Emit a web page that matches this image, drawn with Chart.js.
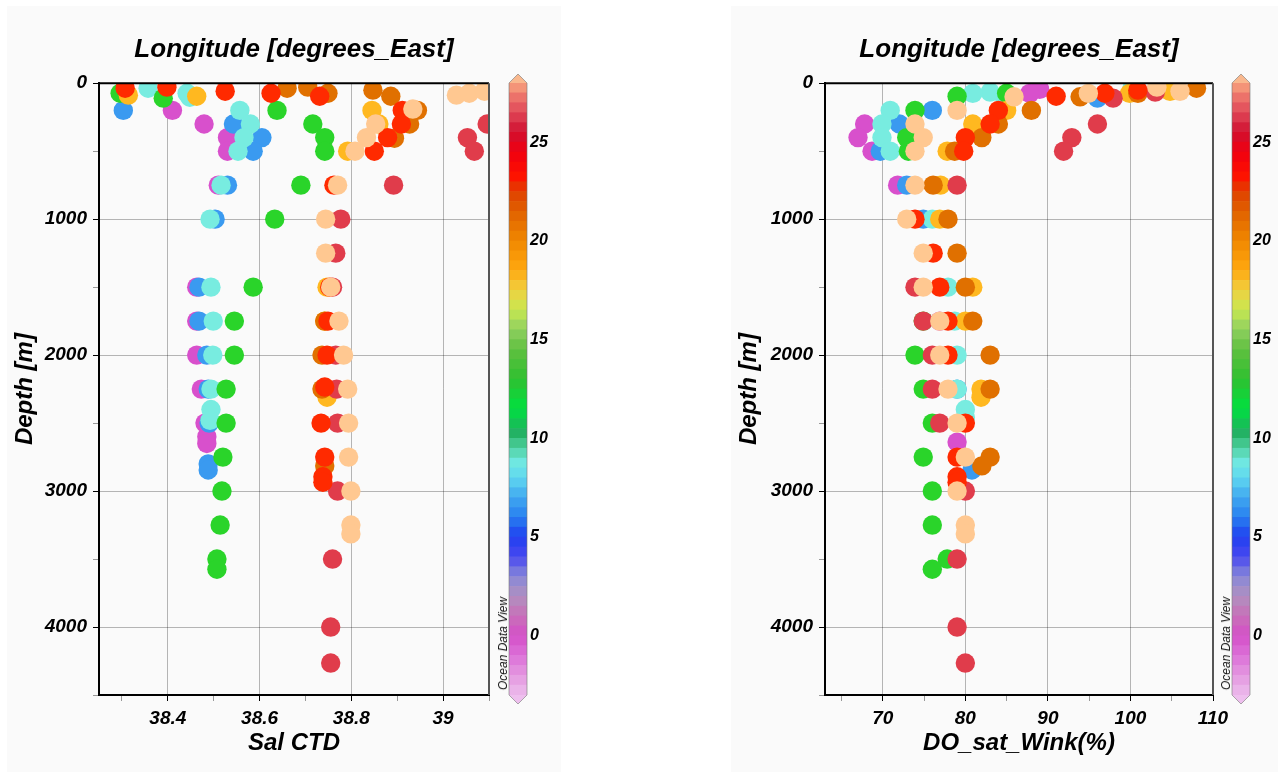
<!DOCTYPE html>
<html>
<head>
<meta charset="utf-8">
<script src="https://cdn.jsdelivr.net/npm/chart.js@4.4.1/dist/chart.umd.min.js"></script>
<style>
  body { margin: 0; background: #fff; width: 1285px; height: 776px; position: relative; overflow: hidden; }
  .panel { position: absolute; top: 6px; height: 766px; background: #fafafa; }
  canvas { position: absolute; }
  .odv { position: absolute; font: italic 12px "Liberation Sans", Arial, sans-serif; color: #111;
         writing-mode: vertical-rl; transform: rotate(180deg); }
</style>
</head>
<body>
<div class="panel" style="left:7px;width:554px"></div>
<div class="panel" style="left:731px;width:547px"></div>
<canvas id="salChart" width="554" height="764" style="left:7px;top:6px"></canvas>
<canvas id="doChart" width="547" height="764" style="left:731px;top:6px"></canvas>
<canvas id="salBar" width="60" height="660" style="left:500px;top:60px"></canvas>
<canvas id="doBar" width="60" height="660" style="left:1223px;top:60px"></canvas>
<div class="odv" style="left:496px;top:597px">Ocean Data View</div>
<div class="odv" style="left:1219px;top:597px">Ocean Data View</div>

<script>
// stations, in drawing order (longitude, degrees East)
const stationLon = [-0.5, 6.5, 8.5, 12.5, 19, 21, 26.5, 24, 28];

// Sal CTD profiles: one row per station
const salDepth = [
  [200, 300, 400, 500, 750, 1500, 1750, 2000, 2250, 2500, 2600, 2650],
  [200, 300, 400, 500, 750, 1000, 1500, 1750, 2000, 2250, 2500, 2800, 2845],
  [37, 74, 103, 200, 300, 400, 500, 750, 1000, 1500, 1750, 2000, 2250, 2400, 2480],
  [74, 110, 200, 300, 400, 500, 750, 1000, 1500, 1750, 2000, 2250, 2500, 2750, 3000, 3250, 3500, 3575],
  [88, 96, 200, 300, 500, 1500, 1750, 2310],
  [37, 29, 74, 51, 96, 200, 300, 405, 1750, 2000, 2250, 2815],
  [300, 400, 500, 750, 1000, 1250, 1500, 2000, 2250, 2500, 3000, 3500, 4000, 4265],
  [37, 29, 59, 74, 96, 200, 300, 400, 500, 750, 1500, 1750, 2000, 2235, 2500, 2750, 2895, 2935],
  [88, 74, 59, 190, 300, 400, 500, 750, 1000, 1250, 1500, 1750, 2000, 2250, 2500, 2750, 3000, 3250, 3315]
];
const salValue = [
  [38.41, 38.479, 38.53, 38.53, 38.51, 38.463, 38.463, 38.463, 38.473, 38.481, 38.485, 38.485],
  [38.303, 38.543, 38.605, 38.586, 38.53, 38.503, 38.468, 38.468, 38.485, 38.488, 38.49, 38.488, 38.488],
  [38.357, 38.442, 38.448, 38.557, 38.58, 38.566, 38.553, 38.516, 38.492, 38.494, 38.499, 38.498, 38.494, 38.494, 38.492],
  [38.296, 38.39, 38.638, 38.716, 38.742, 38.742, 38.69, 38.633, 38.586, 38.545, 38.545, 38.527, 38.527, 38.52, 38.518, 38.514, 38.507, 38.507],
  [38.314, 38.463, 38.845, 38.86, 38.792, 38.747, 38.742, 38.747],
  [38.66, 38.705, 38.749, 38.847, 38.886, 38.944, 38.927, 38.894, 38.742, 38.736, 38.736, 38.742],
  [39.096, 39.053, 39.068, 38.892, 38.777, 38.766, 38.759, 38.766, 38.768, 38.77, 38.77, 38.759, 38.755, 38.755],
  [38.307, 38.398, 38.525, 38.625, 38.731, 38.911, 38.909, 38.879, 38.85, 38.762, 38.753, 38.749, 38.747, 38.742, 38.734, 38.742, 38.738, 38.738],
  [39.029, 39.057, 39.09, 38.934, 38.853, 38.833, 38.808, 38.77, 38.744, 38.744, 38.755, 38.773, 38.783, 38.792, 38.794, 38.794, 38.799, 38.799, 38.799]
];

// DO_sat_Wink(%) profiles: one row per station
const doDepth = [
  [45, 75, 300, 400, 500, 750, 1750, 2640],
  [110, 200, 300, 500, 750, 1000, 2250, 2845],
  [37, 65, 75, 100, 200, 300, 400, 500, 1000, 1500, 1750, 2000, 2250, 2400, 2460],
  [74, 96, 200, 400, 500, 1750, 2000, 2250, 2500, 2750, 3000, 3250, 3500, 3575],
  [60, 75, 200, 300, 500, 750, 1000, 1500, 1750, 2250, 2310],
  [37, 75, 100, 200, 300, 400, 500, 750, 1000, 1250, 1500, 1750, 2000, 2250, 2750, 2815],
  [66, 110, 300, 400, 500, 750, 1500, 1750, 2000, 2250, 2500, 3000, 3500, 4000, 4265],
  [51, 74, 96, 200, 300, 400, 500, 1000, 1250, 1500, 1750, 2000, 2500, 2750, 2895, 2935],
  [29, 60, 75, 100, 200, 300, 400, 500, 750, 1000, 1250, 1500, 1750, 2000, 2250, 2500, 2750, 3000, 3250, 3315]
];
const doValue = [
  [89.0, 87.8, 67.8, 67.0, 68.7, 71.8, 76.9, 79.0],
  [96.0, 76.0, 72.0, 69.7, 72.9, 74.9, 79.0, 80.8],
  [100.2, 83.0, 80.9, 84.7, 70.9, 69.9, 69.9, 70.9, 76.0, 77.9, 78.7, 79.0, 79.0, 80.0, 80.0],
  [85.0, 79.0, 73.9, 72.9, 73.1, 74.9, 73.9, 74.9, 76.0, 74.9, 76.0, 76.0, 77.8, 76.0],
  [104.8, 99.9, 85.0, 80.9, 77.8, 77.0, 76.9, 80.9, 80.0, 81.9, 81.9],
  [108.0, 100.9, 93.9, 88.0, 84.0, 82.0, 78.7, 76.1, 77.9, 79.0, 80.0, 80.9, 83.0, 83.0, 83.0, 82.0],
  [103.0, 97.9, 96.0, 92.9, 91.9, 79.0, 73.9, 74.9, 76.0, 76.0, 76.9, 80.0, 79.0, 79.0, 80.0],
  [100.9, 96.9, 91.0, 84.0, 83.0, 80.0, 79.8, 73.9, 76.1, 76.9, 77.9, 77.9, 80.0, 79.0, 79.0, 79.0],
  [103.2, 106.0, 94.9, 85.9, 79.0, 73.9, 74.9, 73.9, 73.9, 72.9, 74.9, 74.9, 76.9, 76.9, 77.9, 79.0, 80.0, 79.0, 80.0, 80.0]
];

// axis ticks
const depthTicks = [0, 500, 1000, 1500, 2000, 2500, 3000, 3500, 4000, 4500];
const depthLabels = ['0', '', '1000', '', '2000', '', '3000', '', '4000', ''];
const salTicks = [38.3, 38.4, 38.5, 38.6, 38.7, 38.8, 38.9, 39.0, 39.1];
const salLabels = ['', '38.4', '', '38.6', '', '38.8', '', '39', ''];
const doTicks = [65, 70, 75, 80, 85, 90, 95, 100, 105, 110];
const doLabels = ['', '70', '', '80', '', '90', '', '100', '', '110'];
const lonTicks = [0, 5, 10, 15, 20, 25];

// colour scale
const lonMin = -3, lonMax = 28, lonStep = 0.5;
const paletteStops = [
  [-3, '#ecbcec'], [-2, '#e498e0'], [-1, '#dc70d8'], [0, '#d450c8'], [1, '#c870b8'],
  [2, '#b090c0'], [3, '#8888d8'], [4, '#4848f0'], [5, '#2040f0'], [6, '#2880f0'],
  [7, '#40a8f0'], [8, '#60d8f0'], [8.8, '#70e8e0'], [9.5, '#50d0a0'], [10.3, '#20b060'],
  [11.5, '#00e040'], [13, '#30c030'], [14.5, '#60c040'], [15.5, '#90d060'], [16.5, '#c8e850'],
  [17.5, '#f0d040'], [18.5, '#ffa810'], [20, '#f08800'], [21.5, '#e06000'], [22.5, '#e04000'],
  [23.3, '#ff1000'], [24.5, '#f00010'], [25.5, '#d01030'], [26.5, '#e04858'], [27.5, '#f08070'],
  [28, '#f8a880']
];
const markerColors = [
  [-0.5, '#d850cc'], [6.5, '#3a9af0'], [8.5, '#78ece0'], [12.5, '#2ad42a'], [19, '#ffb820'],
  [21, '#e07000'], [24, '#ff2a00'], [26.5, '#e03c4b'], [28, '#ffc891']
];

const FONT = '"Liberation Sans", Arial, sans-serif';
const bi = size => ({ family: FONT, size, weight: 'bold', style: 'italic' });

function hexRgb(h) {
  return [1, 3, 5].map(i => parseInt(h.substr(i, 2), 16));
}
function paletteColor(v) {
  for (let i = 1; i < paletteStops.length; i++) {
    const [v1, c1] = paletteStops[i];
    if (v <= v1) {
      const [v0, c0] = paletteStops[i - 1];
      const t = (v - v0) / (v1 - v0);
      const a = hexRgb(c0), b = hexRgb(c1);
      const c = a.map((x, k) => Math.round(x + (b[k] - x) * t));
      return `rgb(${c[0]},${c[1]},${c[2]})`;
    }
  }
  return paletteStops[paletteStops.length - 1][1];
}
function markerColor(lon) {
  let best = markerColors[0];
  markerColors.forEach(m => { if (Math.abs(m[0] - lon) < Math.abs(best[0] - lon)) best = m; });
  return best[1];
}

function buildPoints(depths, values) {
  const pts = [];
  depths.forEach((row, s) => {
    row.forEach((d, i) => pts.push({ x: values[s][i], y: d, lon: stationLon[s] }));
  });
  return pts;
}

function labelFor(ticks, labels) {
  return v => {
    const i = ticks.findIndex(t => Math.abs(t - v) < 1e-6);
    return i < 0 ? '' : labels[i];
  };
}
function isMajor(ticks, labels, v) {
  const i = ticks.findIndex(t => Math.abs(t - v) < 1e-6);
  return i >= 0 && labels[i] !== '';
}

// black frame on top and right of the plot area
const framePlugin = {
  id: 'frame',
  afterDraw(chart) {
    const { ctx, chartArea: a } = chart;
    ctx.save();
    ctx.lineWidth = 2;
    ctx.strokeStyle = '#000';
    ctx.beginPath();
    ctx.moveTo(a.left, a.top);
    ctx.lineTo(a.right, a.top);
    ctx.stroke();
    ctx.strokeStyle = '#555';
    ctx.beginPath();
    ctx.moveTo(a.right, a.top);
    ctx.lineTo(a.right, a.bottom);
    ctx.stroke();
    ctx.restore();
  }
};

function profileChart(id, points, xTicks, xLabels, xMin, xMax, xTitle, yWidth, padRight) {
  const gridColor = 'rgba(0,0,0,0.28)';
  return new Chart(document.getElementById(id), {
    type: 'scatter',
    data: {
      datasets: [{
        data: points,
        pointRadius: 9.7,
        pointBorderWidth: 0,
        backgroundColor: c => markerColor(c.raw.lon)
      }]
    },
    options: {
      responsive: false,
      animation: false,
      layout: { padding: { right: padRight } },
      plugins: {
        legend: { display: false },
        tooltip: { enabled: false },
        title: {
          display: true, text: 'Longitude [degrees_East]', color: '#000',
          font: bi(26), fullSize: false, padding: { top: 28, bottom: 18 }
        }
      },
      scales: {
        x: {
          type: 'linear', min: xMin, max: xMax,
          afterBuildTicks: s => { s.ticks = xTicks.map(v => ({ value: v })); },
          afterFit: s => { s.height = 75; },
          ticks: { autoSkip: false, maxRotation: 0, color: '#000', font: bi(19), padding: 6,
                   callback: labelFor(xTicks, xLabels) },
          grid: {
            tickLength: 6,
            color: c => (isMajor(xTicks, xLabels, c.tick.value) && c.tick.value < xMax) ? gridColor : 'transparent',
            tickColor: c => isMajor(xTicks, xLabels, c.tick.value) ? '#000' : '#999'
          },
          border: { color: '#000', width: 2 },
          title: { display: true, text: xTitle, color: '#000', font: bi(24), padding: { top: 0, bottom: 12 } }
        },
        y: {
          type: 'linear', min: 0, max: 4500, reverse: true,
          afterBuildTicks: s => { s.ticks = depthTicks.map(v => ({ value: v })); },
          afterFit: s => { s.width = yWidth; },
          ticks: { autoSkip: false, color: '#000', font: bi(19), padding: 6,
                   callback: labelFor(depthTicks, depthLabels) },
          grid: {
            tickLength: 6,
            color: c => (isMajor(depthTicks, depthLabels, c.tick.value) && c.tick.value > 0) ? gridColor : 'transparent',
            tickColor: c => isMajor(depthTicks, depthLabels, c.tick.value) ? '#000' : '#999'
          },
          border: { color: '#000', width: 2 },
          title: { display: true, text: 'Depth [m]', color: '#000', font: bi(24), padding: { top: 4, bottom: 0 } }
        }
      }
    },
    plugins: [framePlugin]
  });
}

// end arrows and outline of the colour bar
const arrowPlugin = {
  id: 'arrows',
  afterDatasetsDraw(chart) {
    const { ctx, chartArea: a } = chart;
    const mid = (a.left + a.right) / 2, h = 9;
    ctx.save();
    ctx.fillStyle = '#f9b88e';
    ctx.beginPath();
    ctx.moveTo(a.left, a.top); ctx.lineTo(mid, a.top - h); ctx.lineTo(a.right, a.top); ctx.closePath();
    ctx.fill();
    ctx.fillStyle = '#eebfee';
    ctx.beginPath();
    ctx.moveTo(a.left, a.bottom); ctx.lineTo(mid, a.bottom + h); ctx.lineTo(a.right, a.bottom); ctx.closePath();
    ctx.fill();
    ctx.strokeStyle = 'rgba(120,120,120,0.6)';
    ctx.lineWidth = 1;
    ctx.beginPath();
    ctx.moveTo(a.left, a.top); ctx.lineTo(mid, a.top - h); ctx.lineTo(a.right, a.top);
    ctx.lineTo(a.right, a.bottom); ctx.lineTo(mid, a.bottom + h); ctx.lineTo(a.left, a.bottom);
    ctx.closePath();
    ctx.stroke();
    ctx.restore();
  }
};

function colorBar(id) {
  const bands = [];
  for (let v = lonMin; v < lonMax - 1e-9; v += lonStep) {
    bands.push({
      data: [[v, v + lonStep]],
      backgroundColor: paletteColor(v + lonStep / 2),
      borderWidth: 0, barPercentage: 1, categoryPercentage: 1, grouped: false
    });
  }
  return new Chart(document.getElementById(id), {
    type: 'bar',
    data: { labels: [''], datasets: bands },
    options: {
      responsive: false,
      animation: false,
      layout: { padding: { left: 9, top: 23, bottom: 25 } },
      plugins: { legend: { display: false }, tooltip: { enabled: false } },
      scales: {
        x: { display: false },
        y: {
          position: 'right', min: lonMin, max: lonMax,
          afterBuildTicks: s => { s.ticks = lonTicks.map(v => ({ value: v })); },
          afterFit: s => { s.width = 33; },
          grid: { display: false, drawTicks: false },
          border: { display: false },
          ticks: { color: '#000', font: bi(16), padding: 3 }
        }
      }
    },
    plugins: [arrowPlugin]
  });
}

profileChart('salChart', buildPoints(salDepth, salValue), salTicks, salLabels, 38.25, 39.1, 'Sal CTD', 92, 72);
profileChart('doChart', buildPoints(doDepth, doValue), doTicks, doLabels, 63, 110, 'DO_sat_Wink(%)', 94, 65);
colorBar('salBar');
colorBar('doBar');
</script>
</body>
</html>
